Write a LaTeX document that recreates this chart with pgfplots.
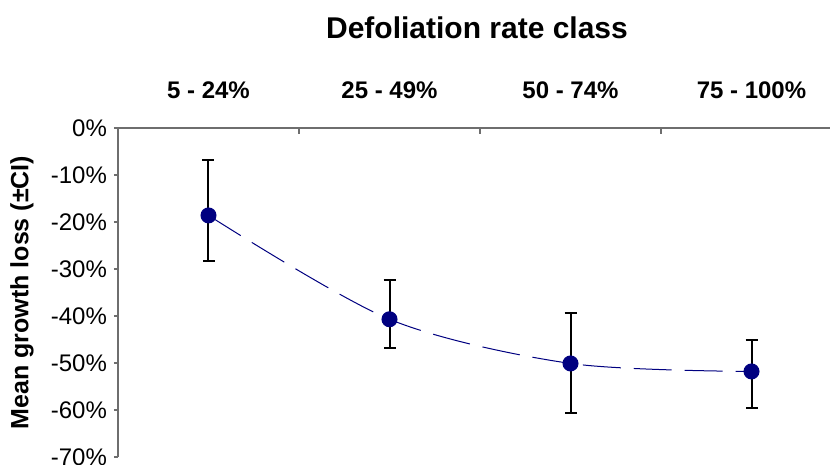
\documentclass[border=0pt]{standalone}
\usepackage{fontspec}
\setmainfont{Liberation Sans}
\usepackage{pgfplots}
\pgfplotsset{compat=1.18}
\usepackage{pgfplotstable}

\definecolor{navyblue}{RGB}{0,0,128}
\definecolor{axisgray}{RGB}{110,110,110}

% mean loss and CI (upper / lower half-width), percent
\pgfplotstableread{
x  y      ep    em
1  -18.6  11.8  9.6
2  -40.7  8.4   6.1
3  -50.1  10.7  10.5
4  -51.8  6.6   7.7
}\losstable

\begin{document}
\begin{tikzpicture}
\begin{axis}[
    at={(0,0)}, anchor=north west,
    scale only axis,
    width=362pt, height=164.5pt,
    xmin=0.5, xmax=4.5,
    ymin=-70, ymax=0,
    axis x line*=top,
    axis y line*=left,
    axis line style={axisgray, line width=0.8pt},
    xtick={1,2,3,4},
    xticklabels={5 - 24\%, 25 - 49\%, 50 - 74\%, 75 - 100\%},
    minor xtick={1.5,2.5,3.5},
    xtick align=inside,
    ytick align=outside,
    major x tick style={draw=none},
    minor tick length=3pt,
    major tick length=2pt,
    every tick/.style={axisgray, line width=0.8pt},
    xticklabel style={font=\bfseries\fontsize{12}{14}\selectfont, anchor=south, yshift=11pt},
    ytick={-70,-60,...,0},
    yticklabels={-70\%,-60\%,-50\%,-40\%,-30\%,-20\%,-10\%,0\%},
    yticklabel style={font=\fontsize{12}{14}\selectfont},
    /pgf/number format/assume math mode=true,
    clip=false,
]
\addplot[
    navyblue, line width=0.5pt, smooth,
    dash pattern=on 19pt off 6.5pt,
    mark=*, mark size=3.75pt,
    mark options={solid, fill=navyblue, draw=navyblue},
    error bars/.cd,
        y dir=both, y explicit,
        error bar style={black, solid, line width=1pt},
        error mark options={rotate=90, mark size=3pt, black, solid, line width=1pt},
] table[x=x, y=y, y error plus=ep, y error minus=em] {\losstable};
\end{axis}
\node[font=\bfseries\fontsize{15}{18}\selectfont] at (179.5pt,50pt) {Defoliation rate class};
\node[rotate=90, font=\bfseries\fontsize{12.5}{15}\selectfont] at (-48pt,-82.25pt) {Mean growth loss (±CI)};
\pgfresetboundingbox
\useasboundingbox (-59pt,64pt) rectangle (356pt,-168.5pt);
\end{tikzpicture}
\end{document}
